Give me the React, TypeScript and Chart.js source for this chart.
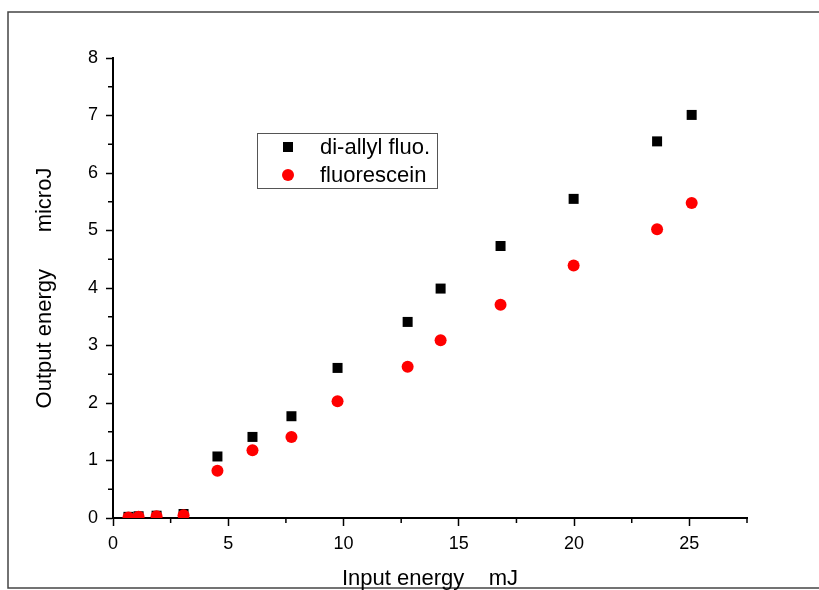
import React, { useEffect, useRef } from "react";
import { Chart, registerables } from "chart.js";

Chart.register(...registerables);

const inputEnergy = [0.67, 1.11, 1.89, 3.06, 4.53, 6.05, 7.74, 9.74, 12.78, 14.21, 16.81, 19.98, 23.6, 25.1];
const diAllylOutput = [0.02, 0.03, 0.04, 0.07, 1.07, 1.41, 1.77, 2.61, 3.41, 3.99, 4.73, 5.55, 6.55, 7.01];
const fluoresceinOutput = [0.01, 0.02, 0.03, 0.05, 0.82, 1.18, 1.41, 2.03, 2.63, 3.09, 3.71, 4.39, 5.02, 5.48];
const seriesLabels = ["di-allyl fluo.", "fluorescein"];
const xTitle = "Input energy    mJ";
const yTitle = "Output energy      microJ";

const FONT = "'Liberation Sans', Arial, Helvetica, sans-serif";

const decorPlugin = {
  id: "decor",
  beforeDraw(chart: any) {
    const ctx = chart.ctx;
    ctx.save();
    ctx.fillStyle = "#ffffff";
    ctx.fillRect(0, 0, chart.width, chart.height);
    ctx.strokeStyle = "#444444";
    ctx.lineWidth = 1.5;
    ctx.strokeRect(8, 12, 900, 576);
    ctx.restore();
  },
  afterDraw(chart: any) {
    const ctx = chart.ctx;
    const xs = chart.scales.x;
    const ys = chart.scales.y;
    ctx.save();
    ctx.strokeStyle = "#000000";
    ctx.lineWidth = 1.5;
    // minor ticks
    for (let v = 2.5; v <= xs.max + 1e-9; v += 5) {
      const px = xs.getPixelForValue(v);
      ctx.beginPath();
      ctx.moveTo(px, xs.top);
      ctx.lineTo(px, xs.top + 5);
      ctx.stroke();
    }
    for (let v = 0.5; v <= ys.max + 1e-9; v += 1) {
      const py = ys.getPixelForValue(v);
      ctx.beginPath();
      ctx.moveTo(ys.right - 5, py);
      ctx.lineTo(ys.right, py);
      ctx.stroke();
    }
    // legend box
    const bx = 257, by = 133, bw = 180, bh = 55;
    ctx.strokeStyle = "#555555";
    ctx.lineWidth = 1;
    ctx.strokeRect(bx + 0.5, by + 0.5, bw, bh);
    ctx.font = `22px ${FONT}`;
    ctx.textBaseline = "middle";
    ctx.textAlign = "left";
    const dsets = chart.data.datasets;
    dsets.forEach((ds: any, i: number) => {
      const cy = by + 14 + i * 28;
      const mx = bx + 31;
      ctx.fillStyle = ds.backgroundColor;
      if (ds.pointStyle === "rect") {
        ctx.fillRect(mx - 5, cy - 5, 10, 10);
      } else {
        ctx.beginPath();
        ctx.arc(mx, cy, 6, 0, Math.PI * 2);
        ctx.fill();
      }
      ctx.fillStyle = "#000000";
      ctx.fillText(ds.label, bx + 63, cy + 1);
    });
    ctx.restore();
  },
};

export default function App() {
  const ref = useRef<HTMLCanvasElement | null>(null);
  useEffect(() => {
    if (!ref.current) return;
    const chart = new Chart(ref.current, {
      type: "scatter",
      data: {
        datasets: [
          {
            label: seriesLabels[0],
            data: inputEnergy.map((x, i) => ({ x, y: diAllylOutput[i] })),
            backgroundColor: "#000000",
            borderColor: "#000000",
            pointStyle: "rect",
            pointRadius: 7.07,
            pointBorderWidth: 0,
            order: 1,
          },
          {
            label: seriesLabels[1],
            data: inputEnergy.map((x, i) => ({ x, y: fluoresceinOutput[i] })),
            backgroundColor: "#ff0000",
            borderColor: "#ff0000",
            pointStyle: "circle",
            pointRadius: 6,
            pointBorderWidth: 0,
            order: 0,
          },
        ],
      },
      options: {
        animation: false,
        responsive: false,
        events: [],
        layout: { padding: { left: 0, top: 58, right: 72, bottom: 0 } },
        plugins: { legend: { display: false }, tooltip: { enabled: false } },
        scales: {
          x: {
            type: "linear",
            min: 0,
            max: 27.5,
            afterFit(scale: any) {
              scale.height = 72;
            },
            ticks: {
              stepSize: 5,
              includeBounds: false,
              color: "#000000",
              padding: 7,
              font: { family: FONT, size: 18 },
            },
            grid: {
              drawOnChartArea: false,
              drawTicks: true,
              tickLength: 8,
              tickWidth: 1.5,
              tickColor: "#000000",
            },
            border: { display: true, color: "#000000", width: 2 },
            title: {
              display: true,
              text: xTitle,
              color: "#000000",
              font: { family: FONT, size: 22, lineHeight: 1 },
              padding: { top: 0, bottom: 0 },
            },
          },
          y: {
            type: "linear",
            min: 0,
            max: 8,
            afterFit(scale: any) {
              scale.width = 113;
            },
            ticks: {
              stepSize: 1,
              includeBounds: false,
              color: "#000000",
              padding: 8,
              font: { family: FONT, size: 18 },
            },
            grid: {
              drawOnChartArea: false,
              drawTicks: true,
              tickLength: 7,
              tickWidth: 1.5,
              tickColor: "#000000",
            },
            border: { display: true, color: "#000000", width: 2 },
            title: {
              display: true,
              text: yTitle,
              color: "#000000",
              font: { family: FONT, size: 22, lineHeight: 1 },
              padding: { top: 34, bottom: 0 },
            },
          },
        },
      },
      plugins: [decorPlugin],
    });
    return () => chart.destroy();
  }, []);
  return (
    <div style={{ position: "fixed", left: 0, top: 0, width: 819, height: 590, background: "#fff" }}>
      <canvas ref={ref} width={819} height={590} style={{ display: "block", width: 819, height: 590 }} />
    </div>
  );
}
